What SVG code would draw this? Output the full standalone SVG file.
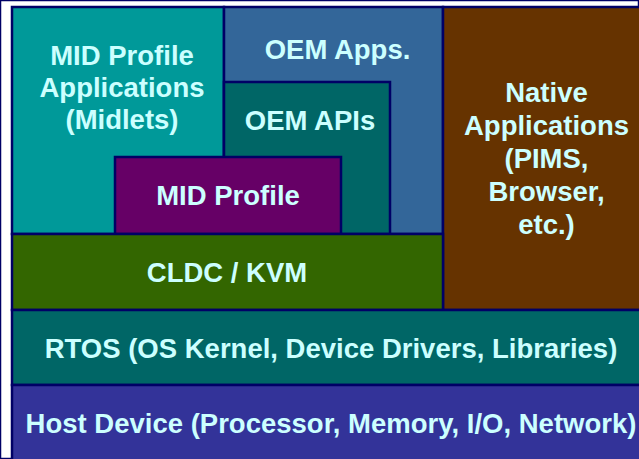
<svg xmlns="http://www.w3.org/2000/svg" width="639" height="459" viewBox="0 0 639 459">
<style>
rect{stroke:#000066;stroke-width:2.5}
text{font-family:"Liberation Sans",Arial,sans-serif;font-weight:bold;font-size:27.5px;fill:#CCFFFF;text-anchor:middle}
</style>
<rect x="0" y="0" width="639" height="459" fill="#ffffff" stroke="none"/>
<g id="mid-apps"><rect x="12" y="7" width="212" height="227" fill="#009999"/>
<text x="122" y="65">MID Profile</text><text x="122" y="97">Applications</text><text x="122" y="128.5">(Midlets)</text></g>
<g id="oem-apps"><rect x="224" y="7" width="219" height="227" fill="#336699"/>
<text x="337.5" y="58.5">OEM Apps.</text></g>
<g id="oem-apis"><rect x="224" y="82" width="166" height="152" fill="#006666"/>
<text x="310" y="130">OEM APIs</text></g>
<g id="mid-profile"><rect x="115" y="157" width="226" height="77" fill="#660066"/>
<text x="228" y="205">MID Profile</text></g>
<g id="native"><rect x="443" y="7" width="210" height="303" fill="#663300"/>
<text x="546.5" y="101.5">Native</text><text x="546.5" y="134.5">Applications</text><text x="546.5" y="167.5">(PIMS,</text><text x="546.5" y="200.5">Browser,</text><text x="546.5" y="233.5">etc.)</text></g>
<g id="cldc"><rect x="12" y="234" width="431" height="76" fill="#336600"/>
<text x="227" y="282">CLDC / KVM</text></g>
<g id="rtos"><rect x="12" y="310" width="640" height="75" fill="#006666"/>
<text x="331" y="357.5">RTOS (OS Kernel, Device Drivers, Libraries)</text></g>
<g id="host"><rect x="12" y="385" width="640" height="80" fill="#333399"/>
<text x="331" y="433">Host Device (Processor, Memory, I/O, Network)</text></g>
<g id="connectors"></g>
</svg>
